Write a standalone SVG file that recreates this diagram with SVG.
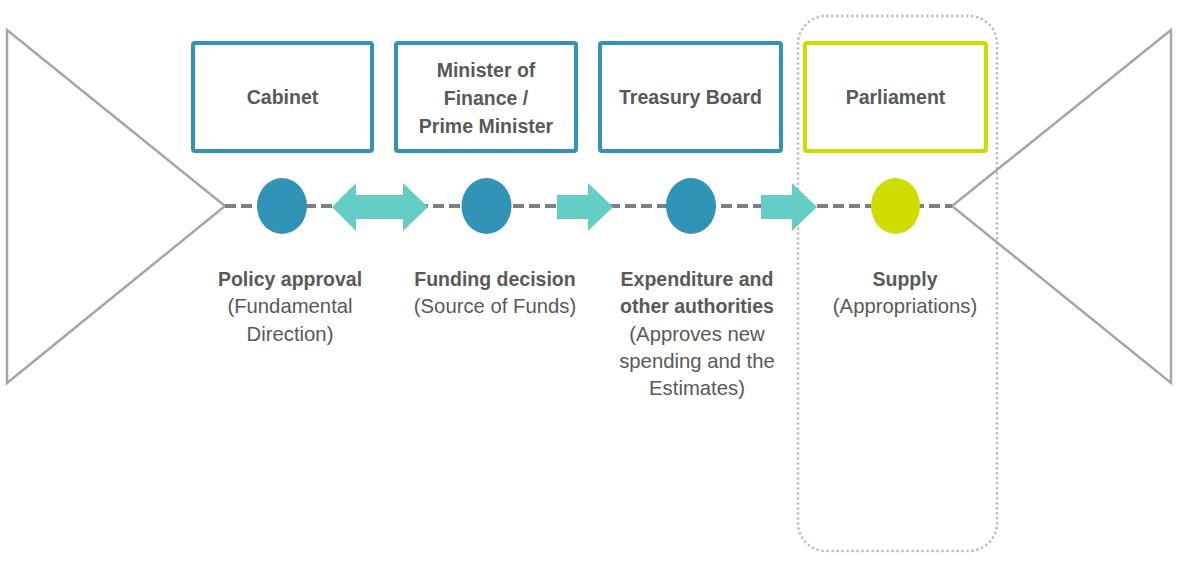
<svg xmlns="http://www.w3.org/2000/svg" width="1177" height="568" viewBox="0 0 1177 568">
<style>
.tri{fill:none;stroke:#A6A6A6;stroke-width:2.5;stroke-linejoin:miter}
.box{fill:#FFFFFF;stroke:#3193B5;stroke-width:4}
.boxg{fill:#FFFFFF;stroke:#CFDC00;stroke-width:4}
.dot{fill:#3193B5}
.dotg{fill:#CFDC00}
.arr{fill:#64CDC6}
.dash{stroke:#7F7F7F;stroke-width:4;stroke-dasharray:11 5;fill:none}
.frame{fill:none;stroke:#BFBFBF;stroke-width:2.5;stroke-dasharray:2.5 2.5}
text{font-family:"Liberation Sans",Arial,sans-serif;fill:#595959;text-anchor:middle}
.b{font-weight:bold;font-size:19.5px}
.r{font-size:20.3px}
</style>
<rect id="supply-frame" class="frame" x="798" y="16" width="199" height="535" rx="28" ry="28"/>
<g id="triangle-left"><polygon class="tri" points="7,30 225,206 7,383"/></g>
<g id="triangle-right"><polygon class="tri" points="1171,30 952,206 1171,383"/></g>
<g id="connectors">
<line class="dash" x1="225" y1="206" x2="952" y2="206"/>
<polygon class="arr" points="332,207 356,183 356,195 403,195 403,183 428,207 403,231 403,219 356,219 356,231"/>
<polygon class="arr" points="557,195 588,195 588,183 613,207 588,231 588,219 557,219"/>
<polygon class="arr" points="761,195 792,195 792,183 817,207 792,231 792,219 761,219"/>
</g>
<g id="cabinet">
<rect class="box" x="193" y="43" width="179" height="108" rx="2"/>
<text class="b" x="282.5" y="104">Cabinet</text>
<ellipse class="dot" cx="282" cy="206" rx="25" ry="28"/>
<text class="b" x="290" y="286">Policy approval</text>
<text class="r" x="290" y="313">(Fundamental</text>
<text class="r" x="290" y="341">Direction)</text>
</g>
<g id="minister">
<rect class="box" x="396" y="43" width="180" height="108" rx="2"/>
<text class="b" x="486" y="77">Minister of</text>
<text class="b" x="486" y="105">Finance /</text>
<text class="b" x="486" y="133">Prime Minister</text>
<ellipse class="dot" cx="486.5" cy="206" rx="25" ry="28"/>
<text class="b" x="495" y="286">Funding decision</text>
<text class="r" x="495" y="313">(Source of Funds)</text>
</g>
<g id="treasury">
<rect class="box" x="600" y="43" width="181" height="108" rx="2"/>
<text class="b" x="690.5" y="104">Treasury Board</text>
<ellipse class="dot" cx="691" cy="206" rx="25" ry="28"/>
<text class="b" x="697" y="286">Expenditure and</text>
<text class="b" x="697" y="313">other authorities</text>
<text class="r" x="697" y="341">(Approves new</text>
<text class="r" x="697" y="368">spending and the</text>
<text class="r" x="697" y="395">Estimates)</text>
</g>
<g id="parliament">
<rect class="boxg" x="805" y="43" width="181" height="108" rx="2"/>
<text class="b" x="895.5" y="104">Parliament</text>
<ellipse class="dotg" cx="895.5" cy="206" rx="24.5" ry="28"/>
<text class="b" x="905" y="286">Supply</text>
<text class="r" x="905" y="313">(Appropriations)</text>
</g>
</svg>
